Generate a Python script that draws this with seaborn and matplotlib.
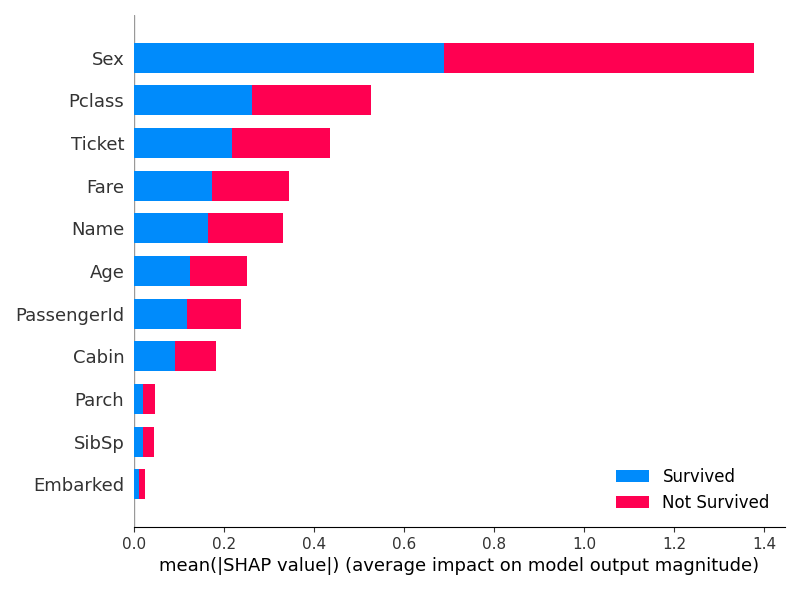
import pandas as pd
import matplotlib
matplotlib.use("Agg")
import matplotlib.pyplot as plt
import seaborn as sns

# mean |SHAP| per feature
features = ["Sex", "Pclass", "Ticket", "Fare", "Name", "Age",
            "PassengerId", "Cabin", "Parch", "SibSp", "Embarked"]
survived = [0.688, 0.262, 0.217, 0.173, 0.164, 0.124, 0.118, 0.091, 0.021, 0.021, 0.011]
not_survived = [0.689, 0.264, 0.218, 0.172, 0.167, 0.127, 0.119, 0.091, 0.025, 0.023, 0.013]
class_names = ["Survived", "Not Survived"]

blue = "#008bfb"
red = "#ff0051"
axis_color = "#333333"

df = pd.DataFrame({"feature": features, "Survived": survived, "Not Survived": not_survived})
df["total"] = df["Survived"] + df["Not Survived"]

sns.set_style("white")
plt.rcParams["font.family"] = ["DejaVu Sans"]
plt.rcParams["text.color"] = "black"
plt.rcParams["axes.labelcolor"] = "black"

fig, ax = plt.subplots(figsize=(8, 5.9), dpi=100)
fig.subplots_adjust(left=0.1675, right=0.981, bottom=0.1068, top=0.9746)

# stacked bars: full length in red, survived part drawn over it in blue
sns.barplot(data=df, y="feature", x="total", order=features, color=red, width=0.7,
            saturation=1, errorbar=None, label=class_names[1], linewidth=0, ax=ax)
sns.barplot(data=df, y="feature", x="Survived", order=features, color=blue, width=0.7,
            saturation=1, errorbar=None, label=class_names[0], linewidth=0, ax=ax)

ax.axvline(0, color="#999999", linewidth=1, zorder=-1)
ax.set_xlim(0, df["total"].max() * 1.05)
ax.set_ylim(len(features), -1)

ax.spines["right"].set_visible(False)
ax.spines["top"].set_visible(False)
ax.spines["left"].set_visible(False)
ax.spines["bottom"].set_color("black")
ax.yaxis.set_ticks_position("none")
ax.xaxis.set_ticks_position("bottom")
ax.tick_params(color=axis_color, labelcolor=axis_color)
ax.tick_params("x", labelsize=11, length=3.5, width=0.8, direction="out")
ax.tick_params("y", labelsize=13)
ax.set_ylabel("")
ax.set_xlabel("mean(|SHAP value|) (average impact on model output magnitude)", fontsize=13)

handles, labels = ax.get_legend_handles_labels()
ax.legend(handles[::-1], labels[::-1], frameon=False, fontsize=12, loc="lower right")

fig.savefig("out.png", dpi=100)
